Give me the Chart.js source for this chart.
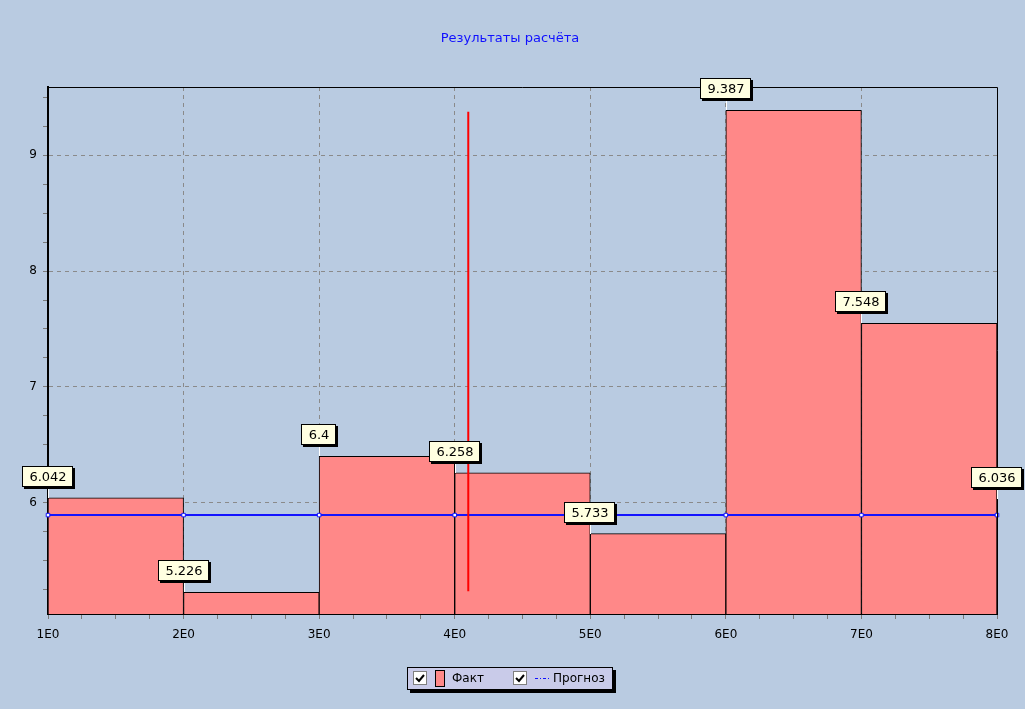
<!DOCTYPE html>
<html>
<head>
<meta charset="utf-8">
<script src="https://cdn.jsdelivr.net/npm/chart.js@4"></script>
<style>
  html, body { margin: 0; padding: 0; background: #b9cbe1; }
  #wrap { width: 1025px; height: 709px; position: relative; }
</style>
</head>
<body>
<div id="wrap"><canvas id="resultsChart"></canvas></div>
<script>
// values
const xPoints = [1, 2, 3, 4, 5, 6, 7, 8];
const factValues = [6.042, 5.226, 6.4, 6.258, 5.733, 9.387, 7.548, 6.036];
const forecastValue = 5.893;
const markerX = [4.1, 4.1];
const markerY = [5.235, 9.375];
const yTicksShown = [6, 7, 8, 9];

const BG = '#b9cbe1';
const FONT = '"DejaVu Sans", Verdana, sans-serif';
const CTX = document.getElementById('resultsChart').getContext('2d');

const barLabels = xPoints.slice(0, -1).map(String);
const barValues = factValues.slice(0, -1);
const forecastPoints = xPoints.map(x => ({ x: x, y: forecastValue }));
const markerPoints = markerX.map((x, i) => ({ x: x, y: markerY[i] }));

const xGridColor = ctx => {
    const v = ctx.tick ? ctx.tick.value : null;
    return (v !== null && Number.isInteger(v) && v > 1 && v < 8) ? '#8a8a8a' : 'rgba(0,0,0,0)';
};
const yGridColor = ctx => {
    const v = ctx.tick ? ctx.tick.value : null;
    return yTicksShown.includes(v) ? '#8a8a8a' : 'rgba(0,0,0,0)';
};

// frame, title, value boxes, legend
const decorPlugin = {
    id: 'decor',
    beforeDraw(chart) {
        const c = chart.ctx;
        c.save();
        c.fillStyle = BG;
        c.fillRect(0, 0, chart.width, chart.height);
        c.restore();
    },
    afterDatasetsDraw(chart) {
        const c = chart.ctx;
        const a = chart.chartArea;
        const xs = chart.scales.x2;
        const ys = chart.scales.y;

        // top and right frame
        c.save();
        c.strokeStyle = '#000';
        c.lineWidth = 1;
        c.beginPath();
        c.moveTo(a.left, a.top + 0.5);
        c.lineTo(a.right + 0.5, a.top + 0.5);
        c.lineTo(a.right + 0.5, a.bottom);
        c.stroke();

        // title
        c.fillStyle = '#1010ff';
        c.font = '13px ' + FONT;
        c.textAlign = 'center';
        c.textBaseline = 'middle';
        c.fillText('Результаты расчёта', 510, 39);

        // value boxes
        c.font = '13px ' + FONT;
        factValues.forEach((v, i) => {
            const px = Math.round(xs.getPixelForValue(xPoints[i]));
            const py = Math.round(ys.getPixelForValue(v));
            const txt = String(v);
            const w = Math.round(c.measureText(txt).width) + 14;
            const h = 21;
            const bx = px - Math.round(w / 2);
            const by = py - 11 - h;
            c.strokeStyle = '#ffffff';
            c.lineWidth = 1;
            c.beginPath();
            c.moveTo(px + 0.5, by + h);
            c.lineTo(px + 0.5, py);
            c.stroke();
            c.fillStyle = '#000';
            c.fillRect(bx + 2, by + 2, w, h);
            c.fillStyle = '#ffffe1';
            c.fillRect(bx, by, w, h);
            c.strokeStyle = '#000';
            c.strokeRect(bx + 0.5, by + 0.5, w - 1, h - 1);
            c.fillStyle = '#000';
            c.fillText(txt, px, by + h / 2 + 1);
        });

        // legend
        const lx = 407, ly = 667, lw = 206, lh = 23;
        c.fillStyle = '#000';
        c.fillRect(lx + 3, ly + 3, lw, lh);
        c.fillStyle = '#c9cbe9';
        c.fillRect(lx, ly, lw, lh);
        c.strokeStyle = '#000';
        c.strokeRect(lx + 0.5, ly + 0.5, lw - 1, lh - 1);

        const drawCheck = (x, y) => {
            c.fillStyle = '#ffffff';
            c.fillRect(x, y, 14, 14);
            c.strokeStyle = '#808080';
            c.strokeRect(x + 0.5, y + 0.5, 13, 13);
            c.strokeStyle = '#000';
            c.lineWidth = 2;
            c.beginPath();
            c.moveTo(x + 3, y + 7);
            c.lineTo(x + 6, y + 10);
            c.lineTo(x + 11, y + 4);
            c.stroke();
            c.lineWidth = 1;
        };
        drawCheck(413, 671);
        c.fillStyle = '#ff8888';
        c.fillRect(435, 670, 10, 17);
        c.strokeStyle = '#000';
        c.strokeRect(435.5, 670.5, 9, 16);
        c.fillStyle = '#000';
        c.textAlign = 'left';
        c.font = '12px ' + FONT;
        c.fillText('Факт', 452, 679);

        drawCheck(513, 671);
        c.strokeStyle = '#1010ff';
        c.lineWidth = 1;
        c.setLineDash([3, 2, 1, 2]);
        c.beginPath();
        c.moveTo(535, 678.5);
        c.lineTo(549, 678.5);
        c.stroke();
        c.setLineDash([]);
        c.fillStyle = '#000';
        c.fillText('Прогноз', 553, 679);
        c.restore();
    }
};

new Chart(CTX, {
    type: 'bar',
    data: {
        labels: barLabels,
        datasets: [{
            label: 'Факт',
            data: barValues,
            backgroundColor: '#ff8888',
            borderColor: '#000',
            borderWidth: 1,
            borderSkipped: false,
            grouped: false,
            barPercentage: 1,
            categoryPercentage: 1,
            xAxisID: 'x',
            order: 3
        }, {
            type: 'line',
            label: 'Прогноз',
            data: forecastPoints,
            xAxisID: 'x2',
            borderColor: '#1414ff',
            borderWidth: 2,
            pointStyle: 'rect',
            pointRadius: 2.5,
            pointBackgroundColor: '#ffffff',
            pointBorderColor: '#1414ff',
            pointBorderWidth: 1,
            clip: false,
            order: 1
        }, {
            type: 'line',
            label: 'marker',
            data: markerPoints,
            xAxisID: 'x2',
            borderColor: '#ff0000',
            borderWidth: 2,
            pointRadius: 0,
            order: 0
        }]
    },
    options: {
        responsive: true,
        maintainAspectRatio: false,
        animation: false,
        layout: { padding: { top: 87, right: 28, left: 0, bottom: 0 } },
        plugins: {
            legend: { display: false },
            title: { display: false },
            tooltip: { enabled: false }
        },
        scales: {
            x: {
                type: 'category',
                display: false,
                offset: true
            },
            x2: {
                type: 'linear',
                position: 'bottom',
                min: 1,
                max: 8,
                offset: false,
                afterFit(scale) { scale.height = 95; },
                border: { display: true, color: '#000', width: 2, dash: [4, 4] },
                grid: {
                    offset: false,
                    color: xGridColor,
                    tickColor: '#7a7a7a',
                    tickLength: 5,
                    lineWidth: 1
                },
                ticks: {
                    stepSize: 0.25,
                    autoSkip: false,
                    maxRotation: 0,
                    padding: 9,
                    color: '#000',
                    font: { family: FONT, size: 12 },
                    callback: v => Number.isInteger(v) ? v + 'E0' : ''
                }
            },
            y: {
                type: 'linear',
                min: 5.039,
                max: 9.589,
                afterFit(scale) { scale.width = 48; },
                border: { display: true, color: '#000', width: 2, dash: [4, 4] },
                grid: {
                    color: yGridColor,
                    tickColor: '#7a7a7a',
                    tickLength: 5,
                    lineWidth: 1
                },
                ticks: {
                    stepSize: 0.25,
                    includeBounds: false,
                    autoSkip: false,
                    padding: 6,
                    color: '#000',
                    font: { family: FONT, size: 12 },
                    callback: v => yTicksShown.includes(v) ? String(v) : ''
                }
            }
        }
    },
    plugins: [decorPlugin]
});
</script>
</body>
</html>
